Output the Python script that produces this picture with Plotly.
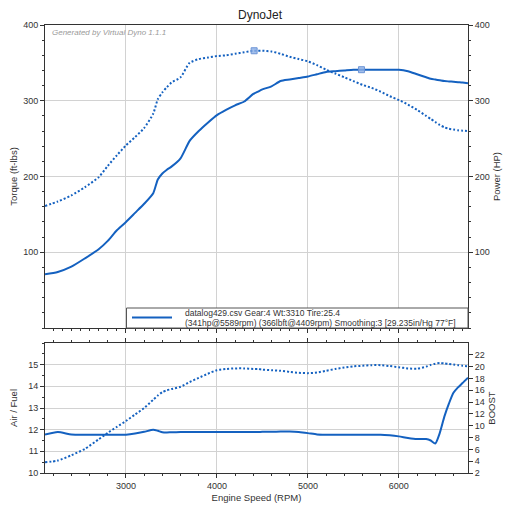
import plotly.graph_objects as go

# ---------------- data ----------------
rpm = [2110, 2250, 2400, 2550, 2700, 2800, 2900, 3000, 3100, 3200, 3300, 3350, 3400,
       3450, 3500, 3600, 3700, 3800, 3900, 4000, 4100, 4200, 4300, 4400, 4450, 4500,
       4600, 4700, 4800, 4900, 5000, 5100, 5200, 5300, 5400, 5500, 5600, 5700, 5800,
       5900, 6000, 6100, 6200, 6300, 6350, 6400, 6450, 6500, 6550, 6600, 6650, 6700, 6760]

power_hp = [71, 74, 81, 92, 104, 115, 129, 140, 152, 164, 178, 196, 204,
            209, 213, 224, 247, 260, 271, 281, 288, 294, 299, 309, 312, 315,
            319, 326, 328, 330, 332, 335, 338, 339, 340, 341, 341, 341, 341,
            341, 341, 339, 335, 331, 329, 328, 327, 326, 325.5, 325, 324.5, 324, 323]

torque_lbft = [161, 167, 175, 186, 199, 214, 228, 241, 252, 264, 283, 302, 311,
               318, 324, 331, 350, 355, 357, 359, 360, 362, 364, 366, 366, 366,
               365, 362, 358, 355, 352, 347, 341, 336, 331, 326, 321, 317, 312,
               306, 301, 295, 288, 280, 276, 272, 268, 265, 263, 262, 261, 260.5, 260]

air_fuel = [11.77, 11.89, 11.78, 11.77, 11.77, 11.77, 11.77, 11.77, 11.82, 11.9, 12.0, 11.95, 11.88,
            11.87, 11.88, 11.89, 11.89, 11.89, 11.89, 11.89, 11.89, 11.89, 11.89, 11.89, 11.89, 11.9,
            11.9, 11.91, 11.91, 11.89, 11.84, 11.78, 11.77, 11.77, 11.77, 11.77, 11.77, 11.77, 11.77,
            11.74, 11.69, 11.62, 11.57, 11.57, 11.5, 11.36, 11.85, 12.6, 13.2, 13.7, 13.95, 14.15, 14.4]

boost_psi = [3.8, 4.1, 5.0, 6.1, 7.7, 8.8, 9.8, 10.8, 11.9, 13.0, 14.4, 15.1, 15.7,
             16.0, 16.2, 16.6, 17.4, 18.1, 18.8, 19.4, 19.6, 19.7, 19.7, 19.6, 19.6, 19.5,
             19.4, 19.3, 19.1, 18.95, 18.9, 19.0, 19.3, 19.6, 19.85, 20.05, 20.15, 20.25, 20.25,
             20.1, 19.9, 19.7, 19.65, 20.0, 20.3, 20.5, 20.6, 20.55, 20.45, 20.35, 20.25, 20.15, 20.05]

peak_hp_rpm = [5589]
peak_hp = [341]
peak_tq_rpm = [4409]
peak_tq = [366]

x_range = [2110, 6760]
legend_line1 = "datalog429.csv Gear:4 Wt:3310 Tire:25.4"
legend_line2 = "(341hp@5589rpm) (366lbft@4409rpm) Smoothing:3 [29.235in/Hg 77°F]"

# ---------------- styling ----------------
BLUE = "#1461c0"
GRID = "#d2d2d2"
AX = "#333333"
FONT = "Arial, Liberation Sans, sans-serif"
DOT = "2px,2px"

# plot area is 423 x 448 px
PW, PH = 423, 448

fig = go.Figure()

fig.add_trace(go.Scatter(x=rpm, y=torque_lbft, xaxis="x", yaxis="y", mode="lines",
                         line=dict(color=BLUE, width=2, dash=DOT, shape="spline", smoothing=0.6),
                         name="Torque", showlegend=False))
fig.add_trace(go.Scatter(x=rpm, y=power_hp, xaxis="x", yaxis="y2", mode="lines",
                         line=dict(color=BLUE, width=2, shape="spline", smoothing=0.6),
                         name="Power", showlegend=False))
fig.add_trace(go.Scatter(x=peak_tq_rpm, y=peak_tq, xaxis="x", yaxis="y", mode="markers",
                         marker=dict(symbol="square", size=6, color="rgba(140,175,230,0.8)",
                                     line=dict(color="#6d95d6", width=1)),
                         showlegend=False))
fig.add_trace(go.Scatter(x=peak_hp_rpm, y=peak_hp, xaxis="x", yaxis="y2", mode="markers",
                         marker=dict(symbol="square", size=6, color="rgba(140,175,230,0.8)",
                                     line=dict(color="#6d95d6", width=1)),
                         showlegend=False))
fig.add_trace(go.Scatter(x=rpm, y=air_fuel, xaxis="x2", yaxis="y3", mode="lines",
                         line=dict(color=BLUE, width=2, shape="spline", smoothing=0.6),
                         name="Air / Fuel", showlegend=False))
fig.add_trace(go.Scatter(x=rpm, y=boost_psi, xaxis="x2", yaxis="y4", mode="lines",
                         line=dict(color=BLUE, width=2, dash=DOT, shape="spline", smoothing=0.6),
                         name="Boost", showlegend=False))

tickfont = dict(family=FONT, size=9, color="#333")
titlefont = dict(family=FONT, size=9.5, color="#333")

top_dom = [145 / PH, 1]
bot_dom = [0, 130 / PH]

fig.update_layout(
    width=504, height=502,
    margin=dict(l=37, r=44, t=17, b=37),
    paper_bgcolor="white", plot_bgcolor="white",
    font=dict(family=FONT, size=9, color="#333"),
    showlegend=False,
    title=dict(text="DynoJet", x=0.5, xanchor="center", y=1 - 6.5 / 502, yanchor="middle",
               font=dict(family=FONT, size=12, color="#222")),
    xaxis=dict(domain=[0, 1], anchor="y", range=x_range, dtick=1000, tick0=0,
               showticklabels=False, showgrid=True, gridcolor=GRID, gridwidth=1,
               ticks="outside", ticklen=4, tickcolor=AX,
               minor=dict(dtick=100, ticks="outside", ticklen=2, tickcolor=AX, showgrid=False),
               showline=True, linecolor=AX, linewidth=1, mirror=True, zeroline=False),
    yaxis=dict(domain=top_dom, anchor="x", range=[0, 400], tickvals=[100, 200, 300, 400],
               showgrid=True, gridcolor=GRID, gridwidth=1, zeroline=False,
               ticks="outside", ticklen=4, tickcolor=AX, tickfont=tickfont,
               minor=dict(dtick=20, ticks="outside", ticklen=2, tickcolor=AX, showgrid=False),
               showline=True, linecolor=AX, linewidth=1,
               title=dict(text="Torque (ft-lbs)", font=titlefont, standoff=6), automargin=False),
    yaxis2=dict(overlaying="y", anchor="x", side="right", range=[0, 400],
                tickvals=[100, 200, 300, 400], showgrid=False, zeroline=False,
                ticks="outside", ticklen=4, tickcolor=AX, tickfont=tickfont,
                minor=dict(dtick=20, ticks="outside", ticklen=2, tickcolor=AX),
                showline=True, linecolor=AX, linewidth=1,
                title=dict(text="Power (HP)", font=titlefont, standoff=4), automargin=False),
    xaxis2=dict(domain=[0, 1], anchor="y3", range=x_range, matches="x", dtick=1000, tick0=0,
                showgrid=True, gridcolor=GRID, gridwidth=1, zeroline=False,
                ticks="outside", ticklen=4, tickcolor=AX, tickfont=tickfont,
                minor=dict(dtick=200, ticks="outside", ticklen=2, tickcolor=AX, showgrid=False),
                showline=True, linecolor=AX, linewidth=1, mirror="ticks",
                title=dict(text="Engine Speed (RPM)", font=titlefont, standoff=4), automargin=False),
    yaxis3=dict(domain=bot_dom, anchor="x2", range=[10, 16], tickvals=[10, 11, 12, 13, 14, 15],
                showgrid=True, gridcolor=GRID, gridwidth=1, zeroline=False,
                ticks="outside", ticklen=4, tickcolor=AX, tickfont=tickfont,
                minor=dict(dtick=0.5, ticks="outside", ticklen=2, tickcolor=AX, showgrid=False),
                showline=True, linecolor=AX, linewidth=1,
                title=dict(text="Air / Fuel", font=titlefont, standoff=8), automargin=False),
    yaxis4=dict(overlaying="y3", anchor="x2", side="right", range=[2, 24],
                tickvals=[2, 4, 6, 8, 10, 12, 14, 16, 18, 20, 22], showgrid=False, zeroline=False,
                ticks="outside", ticklen=4, tickcolor=AX, tickfont=tickfont,
                showline=True, linecolor=AX, linewidth=1,
                title=dict(text="BOOST", font=titlefont, standoff=4), automargin=False),
    yaxis5=dict(overlaying="y3", anchor="x2", side="left", range=[2, 24], tick0=2, dtick=4,
                showgrid=True, gridcolor="#c4c4c4", griddash="dot", gridwidth=1,
                showticklabels=False, ticks="", showline=False, zeroline=False),
)

# legend box (drawn by hand so it keeps the original compact two-line look)
fig.add_shape(type="rect", xref="paper", yref="paper",
              x0=(126.5 - 45) / PW, x1=1, y0=top_dom[0], y1=(473 - 308) / PH,
              line=dict(color="#555", width=1), fillcolor="white", layer="above")
fig.add_shape(type="line", xref="paper", yref="paper",
              x0=(132 - 45) / PW, x1=(172 - 45) / PW, y0=(473 - 317.5) / PH, y1=(473 - 317.5) / PH,
              line=dict(color=BLUE, width=2), layer="above")
fig.add_annotation(text=legend_line1, xref="paper", yref="paper",
                   x=(183 - 45) / PW, y=(473 - 313) / PH, xanchor="left", yanchor="middle",
                   showarrow=False, font=dict(family=FONT, size=8.5, color="#333"))
fig.add_annotation(text=legend_line2, xref="paper", yref="paper",
                   x=(183 - 45) / PW, y=(473 - 322.7) / PH, xanchor="left", yanchor="middle",
                   showarrow=False, font=dict(family=FONT, size=8.5, color="#333"))

# "Generated by" watermark
fig.add_annotation(text="Generated by Virtual Dyno 1.1.1", xref="paper", yref="paper",
                   x=5 / PW, y=(473 - 32) / PH, xanchor="left", yanchor="middle",
                   showarrow=False, font=dict(family=FONT, size=8, color="#9a9a9a", style="italic"))

# small dark frame mark at the right edge of the original screenshot
fig.add_shape(type="rect", xref="paper", yref="paper", x0=(508 - 45) / PW, x1=(511 - 45) / PW,
              y0=(473 - 346) / PH, y1=(473 - 336) / PH, line=dict(width=0), fillcolor="#333")

fig.write_html("out.html")
